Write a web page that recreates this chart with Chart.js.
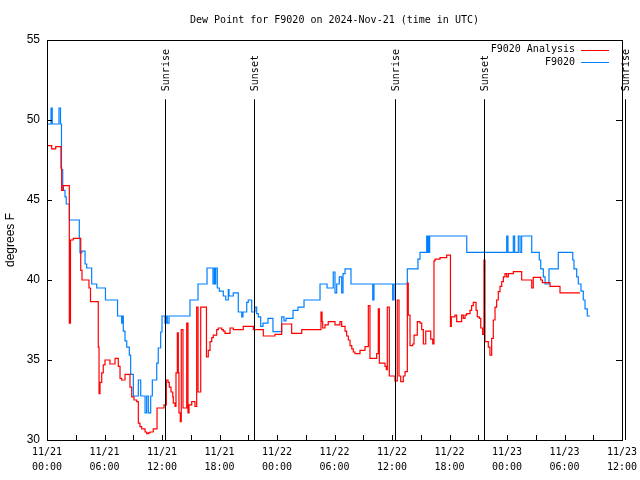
<!DOCTYPE html>
<html><head><meta charset="utf-8">
<script src="https://cdn.jsdelivr.net/npm/chart.js@4/dist/chart.umd.min.js"></script>
<style>html,body{margin:0;padding:0;background:#fff;}</style>
</head><body>
<canvas id="c" width="640" height="480"></canvas>
<script>
// hours since 2024-11-21 00:00 UTC
const blueTimes = [0,0.42,0.55,1.25,1.41,1.51,1.64,1.88,2.01,2.33,3.37,3.44,3.62,3.97,4.14,4.66,5.19,6.10,7.36,7.79,7.90,7.96,8.14,8.32,8.59,8.73,9.01,9.53,9.78,10.23,10.40,10.57,10.82,10.99,11.45,11.61,11.86,12.00,12.31,12.42,12.55,12.73,14.92,15.76,16.70,17.32,17.46,17.53,17.60,17.77,17.98,18.40,18.65,18.92,18.99,19.44,19.96,20.32,20.45,20.84,21.00,21.36,21.70,21.88,22.05,22.30,22.54,23.06,23.58,24.49,24.73,24.94,25.67,26.19,26.82,28.49,29.22,29.87,30.05,30.23,30.50,30.75,30.89,31.10,31.72,33.99,34.12,36.07,36.21,37.60,38.71,38.92,39.62,39.73,39.79,39.86,39.93,43.80,47.97,48.10,48.66,48.80,49.18,49.36,49.53,50.58,51.37,51.52,51.79,51.97,52.38,53.35,54.86,54.99,55.27,55.44,55.72,55.96,56.14,56.38,56.66];
const blueValues = [49.75,50.75,49.75,50.75,49.75,46.9,45.6,45.2,44.75,43.75,42.6,41.7,41.8,41.0,40.75,39.75,39.5,38.75,37.75,37.3,37.75,36.8,36.2,35.8,35.3,34.1,32.75,33.75,32.75,31.7,32.75,31.7,32.75,33.75,34.8,35.75,36.75,37.75,37.3,37.75,37.3,37.75,38.75,39.75,40.75,39.75,40.75,39.75,40.75,39.5,39.3,39.0,38.75,39.4,39.0,39.2,38.0,37.7,38.0,38.6,38.75,38.0,38.3,37.9,37.7,37.1,37.3,37.6,36.77,37.7,37.45,37.6,38.1,38.3,38.75,39.75,39.5,40.5,39.2,39.75,40.2,39.2,40.4,40.7,39.75,38.75,39.75,38.75,39.75,40.7,41.3,41.73,42.75,41.73,42.75,41.73,42.75,41.73,42.75,41.73,42.75,41.73,42.75,41.73,42.75,41.73,41.25,40.7,40.2,39.75,40.7,41.73,41.25,40.7,40.2,39.75,39.3,38.75,38.2,37.75,37.75];
const redTimes = [0,0.49,0.91,1.46,1.53,1.70,2.33,2.45,2.74,3.52,3.65,4.38,4.54,5.35,5.43,5.53,5.71,5.87,6.05,6.57,7.10,7.44,7.62,7.79,8.14,8.66,8.84,9.08,9.36,9.53,9.70,9.88,10.23,10.40,10.57,10.75,11.09,11.48,12.21,12.45,12.63,12.76,12.94,13.12,13.18,13.36,13.46,13.60,13.70,13.77,13.91,14.01,14.19,14.58,14.71,14.82,15.10,15.44,15.62,15.76,16.04,16.64,16.83,17.01,17.19,17.35,17.71,17.87,18.23,18.40,18.57,19.10,19.44,20.48,21.53,22.57,23.79,24.49,25.53,26.58,28.59,28.70,28.77,29.01,29.35,30.05,30.57,30.75,31.10,31.27,31.44,31.62,31.80,31.96,32.14,32.66,33.18,33.53,33.70,34.40,34.57,34.68,35.27,35.41,35.51,35.72,36.31,36.55,36.73,36.91,37.18,37.36,37.60,37.70,37.88,38.16,38.30,38.64,38.92,39.10,39.27,39.52,40.04,40.25,40.38,40.49,41.01,41.71,42.10,42.19,42.57,42.75,43.27,43.44,43.62,43.79,44.14,44.31,44.48,44.77,44.90,45.11,45.26,45.46,45.60,45.70,46.05,46.22,46.40,46.57,46.75,46.92,47.09,47.27,47.45,47.62,47.79,47.97,48.14,48.66,49.53,50.58,50.74,51.52,51.69,52.49,53.53,55.62];
const redValues = [48.4,48.2,48.33,47.0,45.6,45.9,37.3,42.5,42.6,40.6,40.0,39.5,38.65,35.8,32.9,33.6,34.2,34.7,35.0,34.75,35.1,34.6,33.85,33.75,34.1,33.3,32.7,32.5,32.4,31.05,30.83,30.7,30.5,30.4,30.45,30.5,30.7,32.0,32.2,33.75,33.6,33.3,33.0,32.7,32.3,32.1,34.2,36.7,34.2,31.7,31.15,36.9,32.0,37.3,31.7,32.2,32.4,32.1,38.3,33.0,38.3,35.2,35.6,36.15,36.4,36.56,36.9,37.0,36.9,36.8,36.67,37.0,36.9,37.1,36.9,36.5,36.6,37.25,36.67,36.9,38.0,37.4,37.0,37.2,37.4,37.2,37.4,37.1,36.8,36.5,36.25,35.9,35.7,35.5,35.4,35.6,35.83,38.4,35.1,35.4,38.2,34.8,34.6,34.4,38.3,34.0,33.7,38.75,34.0,33.65,34.0,34.27,39.8,37.8,35.9,36.0,36.56,37.4,37.3,36.9,36.0,36.8,36.3,36.0,41.2,41.3,41.4,41.56,37.1,37.7,37.8,37.4,37.8,37.6,37.8,37.9,38.1,38.4,38.6,38.1,37.7,37.6,37.0,36.6,41.25,36.15,35.8,35.3,36.35,37.5,38.3,38.75,39.27,39.6,39.9,40.2,40.4,40.2,40.4,40.52,40.0,39.5,40.17,40.0,39.83,39.6,39.2,39.2];
const xTickHours = [0,6,12,18,24,30,36,42,48,54,60];
const xTickLabels = [['11/21','00:00'],['11/21','06:00'],['11/21','12:00'],['11/21','18:00'],['11/22','00:00'],['11/22','06:00'],['11/22','12:00'],['11/22','18:00'],['11/23','00:00'],['11/23','06:00'],['11/23','12:00']];
const xMinorHours = [3,9,15,21,27,33,39,45,51,57];
const yTicks = [30,35,40,45,50,55];
const eventTimes = [12.31,21.6,36.31,45.6,60.31];
const eventNames = ['Sunrise','Sunset','Sunrise','Sunset','Sunrise'];
const seriesNames = ['F9020 Analysis','F9020'];
const seriesColors = ['#ff0000','#0080ff'];
const titleText = 'Dew Point for F9020 on 2024-Nov-21 (time in UTC)';

const MONO = '"DejaVu Sans Mono", monospace';
const SANS = '"Liberation Sans", Arial, sans-serif';

const deco = {
  id: 'deco',
  afterDraw(chart) {
    const ctx = chart.ctx, a = chart.chartArea;
    const xs = chart.scales.x, ys = chart.scales.y;
    ctx.save();
    // title centred over the plot area
    ctx.font = '10px ' + MONO; ctx.fillStyle = '#000';
    ctx.textAlign = 'center'; ctx.textBaseline = 'middle';
    ctx.fillText(titleText, (a.left + a.right) / 2, 20);
    ctx.strokeStyle = '#000'; ctx.lineWidth = 1;
    // ticks
    ctx.beginPath();
    yTicks.forEach(v => {
      const y = Math.round(ys.getPixelForValue(v)) + 0.5;
      ctx.moveTo(a.left, y); ctx.lineTo(a.left + 5, y);
      ctx.moveTo(a.right, y); ctx.lineTo(a.right - 6, y);
    });
    xTickHours.concat(xMinorHours).forEach(h => {
      const x = Math.round(xs.getPixelForValue(h)) + 0.5;
      ctx.moveTo(x, a.bottom); ctx.lineTo(x, a.bottom - 5);
    });
    ctx.stroke();
    // sunrise / sunset lines
    eventTimes.forEach((t, i) => {
      const x = Math.round(xs.getPixelForValue(t)) + 0.5;
      ctx.beginPath();
      ctx.moveTo(x, ys.getPixelForValue(51.3));
      ctx.lineTo(x, a.bottom);
      ctx.stroke();
      ctx.save();
      ctx.translate(x + 1, ys.getPixelForValue(51.8));
      ctx.rotate(-Math.PI / 2);
      ctx.textAlign = 'left'; ctx.textBaseline = 'middle';
      ctx.fillText(eventNames[i], 0, 0);
      ctx.restore();
    });
    // border
    ctx.strokeRect(Math.round(a.left) + 0.5, Math.round(a.top) + 0.5, Math.round(a.right - a.left), Math.round(a.bottom - a.top));
    // legend
    ctx.textAlign = 'right'; ctx.textBaseline = 'middle';
    seriesNames.forEach((n, i) => {
      const y = a.top + 9.5 + i * 12.5;
      ctx.fillStyle = '#000';
      ctx.fillText(n, a.right - 47, y);
      ctx.strokeStyle = seriesColors[i];
      ctx.beginPath();
      ctx.moveTo(a.right - 41, Math.round(y) + 0.5);
      ctx.lineTo(a.right - 13, Math.round(y) + 0.5);
      ctx.stroke();
    });
    ctx.restore();
  }
};

new Chart(document.getElementById('c'), {
  type: 'line',
  data: {
    datasets: [
      { label: seriesNames[0], data: redTimes.map((t, i) => ({x: t, y: redValues[i]})), borderColor: seriesColors[0], borderWidth: 1.2, pointRadius: 0, stepped: true, fill: false },
      { label: seriesNames[1], data: blueTimes.map((t, i) => ({x: t, y: blueValues[i]})), borderColor: seriesColors[1], borderWidth: 1.2, pointRadius: 0, stepped: true, fill: false }
    ]
  },
  options: {
    animation: false, responsive: false, devicePixelRatio: 1,
    layout: { padding: { left: 0, right: 18, top: 40, bottom: 0 } },
    plugins: {
      legend: { display: false }, tooltip: { enabled: false }, title: { display: false }
    },
    scales: {
      x: {
        type: 'linear', min: 0, max: 60,
        afterBuildTicks: s => { s.ticks = xTickHours.map(v => ({ value: v })); },
        ticks: { autoSkip: false, maxRotation: 0, minRotation: 0, color: '#000', padding: 5,
          font: { family: MONO, size: 10, lineHeight: 1.5 },
          callback: v => xTickLabels[xTickHours.indexOf(v)] },
        grid: { display: false, drawTicks: false }, border: { display: false },
        afterFit: s => { s.height = 40; s.paddingLeft = 0; s.paddingRight = 0; }
      },
      y: {
        min: 30, max: 55,
        afterBuildTicks: s => { s.ticks = yTicks.map(v => ({ value: v })); },
        ticks: { color: '#000', padding: 7, font: { family: SANS, size: 12 } },
        grid: { display: false, drawTicks: false }, border: { display: false },
        title: { display: true, text: 'degrees F', color: '#000', font: { family: SANS, size: 12 }, padding: { top: 3, bottom: 0 } },
        afterFit: s => { s.width = 47; }
      }
    }
  },
  plugins: [deco]
});
</script>
</body></html>
